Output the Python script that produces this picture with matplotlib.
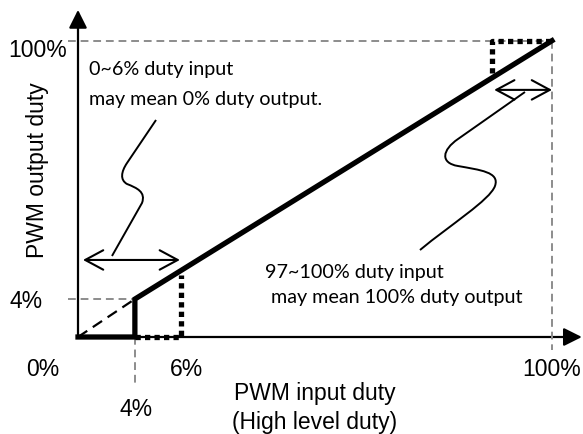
import matplotlib
matplotlib.use('Agg')
import matplotlib.pyplot as plt
from matplotlib.path import Path
from matplotlib.patches import PathPatch, FancyArrowPatch, ArrowStyle

# schematic positions (not to scale) of the duty values on each axis
x_pos = {'0%': 0.0, '4%': 12.0, '6%': 21.7, '97%': 87.3, '100%': 100.0}
y_pos = {'0%': 0.0, '4%': 12.8, '100%': 100.0}

# transfer curve: 0 output up to 4% input, then linear to 100%
curve_x = [0, x_pos['4%'], x_pos['4%'], x_pos['100%']]
curve_y = [0, 0, y_pos['4%'], y_pos['100%']]

# uncertain regions (dotted)
low_dot_x = [x_pos['4%'], x_pos['6%'], x_pos['6%']]
low_dot_y = [0, 0, 21.0]
high_dot_x = [x_pos['97%'], x_pos['97%'], x_pos['100%']]
high_dot_y = [89.0, 100, 100]

# squiggly leader lines (bezier control points)
left_squiggle = [(16.46, 73.24), (10.34, 58.72),
                 (9.07, 55.69), (8.86, 52.99), (10.34, 51.64),
                 (12.45, 50.29), (14.35, 48.94), (13.50, 45.22),
                 (7.17, 27.34)]
left_codes = [Path.MOVETO, Path.LINETO,
              Path.CURVE4, Path.CURVE4, Path.CURVE4,
              Path.CURVE4, Path.CURVE4, Path.CURVE4,
              Path.LINETO]
right_squiggle = [(94.30, 82.69), (80.17, 66.82),
                  (76.79, 63.11), (76.37, 58.72), (80.17, 57.71),
                  (84.81, 56.36), (89.03, 55.69), (87.97, 50.96),
                  (86.92, 46.24), (78.48, 37.80), (72.15, 29.36)]
right_codes = [Path.MOVETO, Path.LINETO,
               Path.CURVE4, Path.CURVE4, Path.CURVE4,
               Path.CURVE4, Path.CURVE4, Path.CURVE4,
               Path.CURVE4, Path.CURVE4, Path.CURVE4]

label_font = 'Liberation Sans'
note_font = 'Lato'
gray = '#8c8c8c'

fig = plt.figure(figsize=(5.83, 4.34), dpi=100)
ax = fig.add_axes([78 / 583, 97 / 434, 474 / 583, 296.3 / 434])
ax.set_xlim(0, 100)
ax.set_ylim(0, 100)
ax.axis('off')

# gray guide lines
dash = (0, (4, 2.5))
ax.plot([-2.1, x_pos['100%']], [y_pos['100%']] * 2, color=gray, lw=1.4, ls=dash, clip_on=False)
ax.plot([x_pos['100%']] * 2, [y_pos['100%'], -4.4], color=gray, lw=1.4, ls=dash, clip_on=False)
ax.plot([-2.1, x_pos['4%']], [y_pos['4%']] * 2, color=gray, lw=1.4, ls=dash, clip_on=False)
ax.plot([x_pos['4%']] * 2, [y_pos['4%'], -16.2], color=gray, lw=1.4, ls=dash, clip_on=False)

# axes with arrows
ax_style = ArrowStyle('-|>', head_length=11, head_width=5.5)
ax.add_patch(FancyArrowPatch((0, 0), (106.3, 0), arrowstyle=ax_style, mutation_scale=1,
                             lw=1.6, color='black', shrinkA=0, shrinkB=0, clip_on=False))
ax.add_patch(FancyArrowPatch((0, 0), (0, 110.4), arrowstyle=ax_style, mutation_scale=1,
                             lw=1.6, color='black', shrinkA=0, shrinkB=0, clip_on=False))

# ideal line below 4%
ax.plot([0, x_pos['4%']], [0, y_pos['4%']], color='black', lw=1.6, ls=(0, (5, 3)), clip_on=False)

# dotted regions
dot = (0, (1, 0.8))
ax.plot(low_dot_x, low_dot_y, color='black', lw=3.8, ls=dot, dash_capstyle='butt', clip_on=False)
ax.plot(high_dot_x, high_dot_y, color='black', lw=3.8, ls=dot, dash_capstyle='butt', clip_on=False)

# transfer curve
ax.plot(curve_x, curve_y, color='black', lw=3.8, solid_joinstyle='miter', clip_on=False)

# double arrows
dbl = ArrowStyle('<->', head_length=13, head_width=7)
ax.add_patch(FancyArrowPatch((1.05, 26), (21.5, 26), arrowstyle=dbl, mutation_scale=1,
                             lw=1.5, color='black', shrinkA=0, shrinkB=0, clip_on=False))
ax.add_patch(FancyArrowPatch((87.8, 83.4), (100, 83.4), arrowstyle=dbl, mutation_scale=1,
                             lw=1.5, color='black', shrinkA=0, shrinkB=0, clip_on=False))

# squiggles
ax.add_patch(PathPatch(Path(left_squiggle, left_codes), fill=False, lw=1.4, color='black', clip_on=False))
ax.add_patch(PathPatch(Path(right_squiggle, right_codes), fill=False, lw=1.4, color='black', clip_on=False))

# tick labels
fs = 16.5
ax.text(-2.3, 94.5, '100%', ha='right', va='baseline', fontsize=fs, family=label_font)
ax.text(-11.0, 9.8, '4%', ha='center', va='baseline', fontsize=fs, family=label_font)
ax.text(-7.4, -13.2, '0%', ha='center', va='baseline', fontsize=fs, family=label_font)
ax.text(22.8, -13.2, '6%', ha='center', va='baseline', fontsize=fs, family=label_font)
ax.text(100, -13.2, '100%', ha='center', va='baseline', fontsize=fs, family=label_font)
ax.text(12.2, -26.7, '4%', ha='center', va='baseline', fontsize=fs, family=label_font)

# axis titles
ax.text(50, -21.3, 'PWM input duty', ha='center', va='baseline', fontsize=fs, family=label_font)
ax.text(50, -31.0, '(High level duty)', ha='center', va='baseline', fontsize=fs, family=label_font)
ax.text(-8.6, 56.4, 'PWM output duty', ha='center', va='center', rotation=90,
        fontsize=fs, family=label_font)

# notes
nfs = 14.2
ax.text(2.3, 88.4, '0~6% duty input', ha='left', va='baseline', fontsize=nfs, family=note_font)
ax.text(2.3, 78.3, 'may mean 0% duty output.', ha='left', va='baseline', fontsize=nfs, family=note_font)
ax.text(39.5, 19.9, '97~100% duty input', ha='left', va='baseline', fontsize=nfs, family=note_font)
ax.text(40.7, 11.5, 'may mean 100% duty output', ha='left', va='baseline', fontsize=nfs, family=note_font)

fig.savefig('out.png', dpi=100)
